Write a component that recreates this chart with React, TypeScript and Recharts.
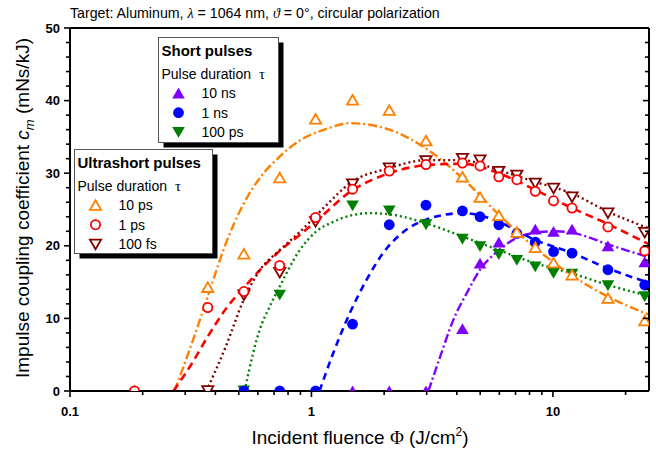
import React from "react";
import { ComposedChart, Line, Scatter, XAxis, YAxis } from "recharts";

const SANS = "'Liberation Sans', Arial, Helvetica, sans-serif";
const SERIF = "'Liberation Serif', 'Times New Roman', serif";

// measured incident fluence (J/cm2)
const fluence = [0.185, 0.372, 0.525, 0.739, 1.04, 1.48, 2.1, 2.98, 4.22, 4.99, 5.97, 7.09, 8.45, 10.06, 12.0, 16.9, 24.0];

// coupling coefficient c_m (mNs/kJ) per pulse duration, null = no point
const cm10ns = [null, 0, null, 0, null, 0, 0, 0, 8.6, 17.6, 20.5, null, 22.3, 22.0, 22.3, 20.0, 17.8];
const cm1ns = [null, null, 0, 0, 0, 9.2, 22.9, 25.6, 24.8, 24.0, 22.9, 21.7, 20.5, 19.2, 19.0, 16.7, 14.6];
const cm100ps = [null, null, 0, 13.2, null, 25.5, 24.8, 22.9, 20.9, 19.9, 18.8, 18.0, 17.1, 16.2, 16.1, 14.5, 13.0];
const cm10ps = [0, 14.3, 18.9, 29.4, 37.5, 40.1, 38.7, 34.5, 29.5, 26.7, 24.2, 21.9, 19.8, 17.7, 16.0, 12.8, 9.7];
const cm1ps = [0, 11.5, 13.7, 17.3, 23.9, 27.8, 30.3, 31.2, 31.4, 31.0, 29.5, 29.1, 27.5, 26.2, 25.2, 22.6, 19.3];
const cm100fs = [null, 0, 13.2, 16.3, 23.3, 28.5, 30.7, 31.7, 32.0, 31.8, 30.2, 29.7, 28.6, 27.9, 26.7, 24.5, 21.8];

// fitted model curves as [fluence, c_m]
const fit10ns = [[3.05, 0], [3.41, 4.7], [3.87, 9.8], [4.4, 13.5], [4.99, 16.7], [5.97, 19.4], [7.09, 21.1], [8.45, 21.8], [10.06, 22.0], [12.0, 21.8], [16.9, 20.2], [25, 18.4]];
const fit1ns = [[1.08, 0], [1.23, 5.2], [1.44, 10.7], [1.69, 15.3], [1.98, 19.0], [2.32, 21.5], [2.98, 23.6], [4.22, 24.5], [4.99, 24.2], [5.97, 23.3], [8.45, 20.8], [12.0, 19.0], [16.9, 16.9], [25, 14.9]];
const fit100ps = [[0.529, 0], [0.573, 5.2], [0.61, 8.4], [0.671, 11.6], [0.739, 14.4], [0.894, 19.4], [1.05, 22.0], [1.23, 23.3], [1.746, 24.5], [2.32, 24.1], [2.98, 23.1], [4.22, 21.3], [5.97, 19.4], [8.45, 17.6], [12.0, 16.2], [16.9, 14.6], [25, 13.1]];
const fit10ps = [[0.271, 0], [0.323, 7.0], [0.372, 13.0], [0.444, 20.5], [0.52, 25.6], [0.61, 29.3], [0.739, 32.3], [0.894, 34.5], [1.153, 36.1], [1.44, 36.9], [2.1, 36.0], [2.98, 33.4], [4.22, 29.3], [5.97, 24.3], [8.45, 19.7], [12.0, 15.9], [16.9, 13.0], [25, 10.5]];
const fit1ps = [[0.268, 0], [0.313, 3.3], [0.372, 7.5], [0.444, 11.4], [0.52, 14.1], [0.63, 17.1], [0.739, 19.3], [0.894, 21.5], [1.08, 23.8], [1.44, 27.4], [2.1, 30.0], [2.98, 31.1], [4.22, 31.3], [5.97, 30.0], [8.45, 27.7], [12.0, 25.2], [16.9, 23.0], [25, 20.2]];
const fit100fs = [[0.367, 0], [0.444, 6.3], [0.52, 12.3], [0.61, 16.6], [0.739, 19.4], [0.894, 21.9], [1.153, 25.6], [1.44, 28.6], [2.1, 30.7], [2.98, 31.8], [4.22, 31.8], [5.97, 30.4], [8.45, 28.8], [12.0, 27.2], [16.9, 24.7], [25, 22.4]];

const xTicks = [0.1, 0.2, 0.3, 0.4, 0.5, 0.6, 0.7, 0.8, 0.9, 1, 2, 3, 4, 5, 6, 7, 8, 9, 10, 20];
const yTicks = [0, 2, 4, 6, 8, 10, 12, 14, 16, 18, 20, 22, 24, 26, 28, 30, 32, 34, 36, 38, 40, 42, 44, 46, 48, 50];

const C10ns = "#8000FF";
const C1ns = "#0000FF";
const C100ps = "#008000";
const C10ps = "#FF8000";
const C1ps = "#FF0000";
const C100fs = "#800000";

const pts = (ys: (number | null)[]) =>
  fluence.map((x, i) => ({ x, y: ys[i] })).filter((p) => p.y !== null);
const curve = (arr: number[][]) => arr.map(([x, y]) => ({ x, y }));

const isDecade = (v: number) => Math.abs(Math.log10(v) - Math.round(Math.log10(v))) < 1e-6;

function Marker({ kind, color, cx, cy }: { kind: string; color: string; cx: number; cy: number }) {
  const open = kind.startsWith("open");
  const fill = open ? "#fff" : color;
  const sw = open ? 1.8 : 0;
  if (kind.endsWith("circle")) {
    return <circle cx={cx} cy={cy} r={open ? 4.6 : 5.4} fill={fill} stroke={color} strokeWidth={sw} />;
  }
  const w = open ? 5.6 : 6.3;
  const h = open ? 4.8 : 5.4;
  const d = kind.endsWith("up")
    ? `M${cx},${cy - h} L${cx + w},${cy + h} L${cx - w},${cy + h} Z`
    : `M${cx},${cy + h} L${cx + w},${cy - h} L${cx - w},${cy - h} Z`;
  return <path d={d} fill={fill} stroke={color} strokeWidth={sw} strokeLinejoin="miter" />;
}

const shape = (kind: string, color: string) => (p: any) =>
  <Marker kind={kind} color={color} cx={p.cx} cy={p.cy} />;

const BottomTick = (p: any) => {
  const v = p.payload.value;
  const major = isDecade(v);
  return (
    <g>
      <line x1={p.x} x2={p.x} y1={p.y} y2={p.y + (major ? 6 : 4)} stroke="#000" strokeWidth={1.6} />
      {major && (
        <text x={p.x} y={p.y + 25} textAnchor="middle" fontFamily={SANS} fontSize={13} fontWeight="bold" fill="#000">
          {String(v)}
        </text>
      )}
    </g>
  );
};

const TopTick = (p: any) => {
  const major = isDecade(p.payload.value);
  return <line x1={p.x} x2={p.x} y1={p.y} y2={p.y + (major ? 6 : 4)} stroke="#000" strokeWidth={1.6} />;
};

const LeftTick = (p: any) => {
  const v = p.payload.value;
  const major = v % 10 === 0;
  return (
    <g>
      <line x1={p.x} x2={p.x - (major ? 6 : 4)} y1={p.y} y2={p.y} stroke="#000" strokeWidth={1.6} />
      {major && (
        <text x={p.x - 10} y={p.y + 4.6} textAnchor="end" fontFamily={SANS} fontSize={13} fontWeight="bold" fill="#000">
          {String(v)}
        </text>
      )}
    </g>
  );
};

const RightTick = (p: any) => {
  const major = p.payload.value % 10 === 0;
  return <line x1={p.x} x2={p.x - (major ? 6 : 4)} y1={p.y} y2={p.y} stroke="#000" strokeWidth={1.6} />;
};

function LegendBox({ x, y, w, h, title, items }: any) {
  return (
    <g>
      <rect x={x + 5} y={y + 5} width={w} height={h} fill="#000" />
      <rect x={x} y={y} width={w} height={h} fill="#fff" stroke="#555" strokeWidth={1} />
      <text x={x + 3} y={y + 18} fontFamily={SANS} fontSize={15} fontWeight="bold" fill="#000">{title}</text>
      <text x={x + 3} y={y + 41.5} fontFamily={SANS} fontSize={14} fill="#000">
        Pulse duration <tspan fontFamily={SERIF} fontSize={15} dx={4}>τ</tspan>
      </text>
      {items.map((it: any, i: number) => (
        <g key={it.label}>
          <Marker kind={it.kind} color={it.color} cx={x + it.mx} cy={y + 55.5 + i * 19.7} />
          <text x={x + it.tx} y={y + 60.5 + i * 19.7} fontFamily={SANS} fontSize={14} fill="#000">{it.label}</text>
        </g>
      ))}
    </g>
  );
}

export default function App() {
  return (
    <div style={{ position: "absolute", left: 0, top: 0, width: 656, height: 452, background: "#fff" }}>
      <ComposedChart width={656} height={452} margin={{ top: 18, right: 2, bottom: 31, left: 40 }}>
        <XAxis
          dataKey="x" type="number" scale="log" domain={[0.1, 25]} allowDataOverflow
          ticks={xTicks} interval={0} tick={BottomTick} tickLine={false} tickSize={0} tickMargin={0}
          height={30} axisLine={{ stroke: "#000", strokeWidth: 2 }}
        />
        <XAxis
          xAxisId="top" orientation="top" type="number" scale="log" domain={[0.1, 25]} allowDataOverflow
          ticks={xTicks} interval={0} tick={TopTick} tickLine={false} tickSize={0} tickMargin={0}
          height={10} axisLine={{ stroke: "#000", strokeWidth: 2 }}
        />
        <YAxis
          dataKey="y" type="number" domain={[0, 50]} allowDataOverflow
          ticks={yTicks} interval={0} tick={LeftTick} tickLine={false} tickSize={0} tickMargin={0}
          width={30} axisLine={{ stroke: "#000", strokeWidth: 2 }}
        />
        <YAxis
          yAxisId="right" orientation="right" type="number" domain={[0, 50]} allowDataOverflow
          ticks={yTicks} interval={0} tick={RightTick} tickLine={false} tickSize={0} tickMargin={0}
          width={5} axisLine={{ stroke: "#000", strokeWidth: 2 }}
        />

        <Line data={curve(fit10ns)} dataKey="y" type="monotone" stroke={C10ns} strokeWidth={2.4} strokeDasharray="9 3 2 3" dot={false} activeDot={false} isAnimationActive={false} />
        <Line data={curve(fit1ns)} dataKey="y" type="monotone" stroke={C1ns} strokeWidth={2.6} strokeDasharray="7 5" dot={false} activeDot={false} isAnimationActive={false} />
        <Line data={curve(fit100ps)} dataKey="y" type="monotone" stroke={C100ps} strokeWidth={2.4} strokeDasharray="2 3" dot={false} activeDot={false} isAnimationActive={false} />
        <Line data={curve(fit10ps)} dataKey="y" type="monotone" stroke={C10ps} strokeWidth={2.4} strokeDasharray="9 3 2 3" dot={false} activeDot={false} isAnimationActive={false} />
        <Line data={curve(fit1ps)} dataKey="y" type="monotone" stroke={C1ps} strokeWidth={2.6} strokeDasharray="8 5" dot={false} activeDot={false} isAnimationActive={false} />
        <Line data={curve(fit100fs)} dataKey="y" type="monotone" stroke={C100fs} strokeWidth={2.4} strokeDasharray="2 3" dot={false} activeDot={false} isAnimationActive={false} />

        <Scatter data={pts(cm10ns)} dataKey="y" shape={shape("fill-up", C10ns)} isAnimationActive={false} />
        <Scatter data={pts(cm100ps)} dataKey="y" shape={shape("fill-down", C100ps)} isAnimationActive={false} />
        <Scatter data={pts(cm1ns)} dataKey="y" shape={shape("fill-circle", C1ns)} isAnimationActive={false} />
        <Scatter data={pts(cm10ps)} dataKey="y" shape={shape("open-up", C10ps)} isAnimationActive={false} />
        <Scatter data={pts(cm100fs)} dataKey="y" shape={shape("open-down", C100fs)} isAnimationActive={false} />
        <Scatter data={pts(cm1ps)} dataKey="y" shape={shape("open-circle", C1ps)} isAnimationActive={false} />
      </ComposedChart>

      <svg width={656} height={452} style={{ position: "absolute", left: 0, top: 0, pointerEvents: "none" }}>
        <text x={70} y={18} fontFamily={SANS} fontSize={14.2} fill="#000">
          Target: Aluminum, <tspan fontFamily={SERIF} fontStyle="italic">λ</tspan> = 1064 nm,{" "}
          <tspan fontFamily={SERIF} fontStyle="italic">ϑ</tspan> = 0°, circular polarization
        </text>
        <text transform="translate(29,208) rotate(-90)" textAnchor="middle" fontFamily={SANS} fontSize={19} fill="#000">
          Impulse coupling coefficient <tspan fontStyle="italic">c</tspan>
          <tspan fontStyle="italic" fontSize={13} dy={5}>m</tspan>
          <tspan dy={-5}> (mNs/kJ)</tspan>
        </text>
        <text x={360} y={444} textAnchor="middle" fontFamily={SANS} fontSize={19} fill="#000">
          Incident fluence <tspan fontFamily={SERIF}>Φ</tspan> (J/cm<tspan fontSize={12} dy={-8}>2</tspan>
          <tspan dy={8}>)</tspan>
        </text>
        <LegendBox
          x={158.5} y={37.5} w={120} h={105} title="Short pulses"
          items={[
            { kind: "fill-up", color: C10ns, label: "10 ns", mx: 20, tx: 43 },
            { kind: "fill-circle", color: C1ns, label: "1 ns", mx: 20, tx: 43 },
            { kind: "fill-down", color: C100ps, label: "100 ps", mx: 20, tx: 43 },
          ]}
        />
        <LegendBox
          x={74.5} y={149.5} w={138} h={104} title="Ultrashort pulses"
          items={[
            { kind: "open-up", color: C10ps, label: "10 ps", mx: 21, tx: 44 },
            { kind: "open-circle", color: C1ps, label: "1 ps", mx: 21, tx: 44 },
            { kind: "open-down", color: C100fs, label: "100 fs", mx: 21, tx: 44 },
          ]}
        />
      </svg>
    </div>
  );
}
